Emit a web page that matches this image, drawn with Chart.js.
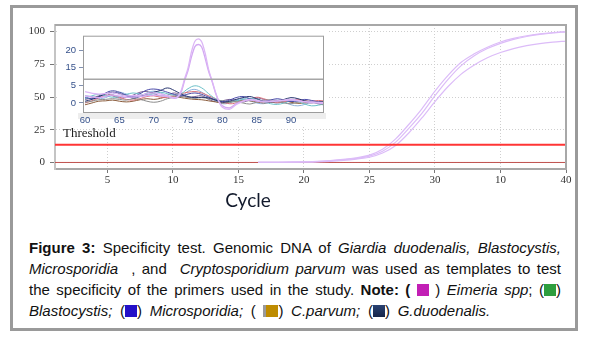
<!DOCTYPE html>
<html><head><meta charset="utf-8">
<script src="https://cdn.jsdelivr.net/npm/chart.js@4/dist/chart.umd.min.js"></script>
<style>
html,body{margin:0;padding:0;background:#fff;}
#wrap{position:relative;width:589px;height:342px;overflow:hidden;background:#fff;}
#frame{position:absolute;left:10px;top:5px;width:562px;height:320px;border:3px solid #9a9a9a;}
#main{position:absolute;left:0;top:0;}
#insetBox{position:absolute;left:57px;top:27px;width:272px;height:99px;background:#fff;}
#inset{position:absolute;left:0;top:0;}
#cycle{position:absolute;left:198px;top:189px;width:100px;text-align:center;font:19px Lato,"Open Sans",sans-serif;line-height:22px;color:#121a2c;}
#caption{position:absolute;left:29px;top:237px;width:532px;font:15px "Liberation Sans",Arial,sans-serif;color:#111;line-height:21px;}
.j2{text-align:justify;text-align-last:justify;}
.last{word-spacing:3.5px;}
.sq{display:inline-block;width:12px;height:12px;vertical-align:-1px;}
</style></head>
<body>
<div id="wrap">
  <div id="frame"></div>
  <canvas id="main" width="589" height="200"></canvas>
  <div id="insetBox"><canvas id="inset" width="272" height="99"></canvas></div>
  <div id="cycle">Cycle</div>
  <div id="caption">
    <div class="j2"><b>Figure 3:</b> Specificity test. Genomic DNA of <i>Giardia duodenalis, Blastocystis,</i></div>
    <div class="j2"><i>Microsporidia</i>&nbsp; , and &nbsp;<i>Cryptosporidium parvum</i> was used as templates to test</div>
    <div class="j2">the specificity of the primers used in the study. <b>Note: (</b> <span class="sq" style="background:#c21fb5"></span> ) <i>Eimeria spp</i>; (<span class="sq" style="background:#2e9e3e"></span>)</div>
    <div class="last"><i>Blastocystis;</i> (<span class="sq" style="background:#2410c8"></span>) <i>Microsporidia;</i> ( <span class="sq" style="background:linear-gradient(90deg,#9a9a9a 0 3px,#bf8c00 3px);width:15px"></span>) <i>C.parvum;</i> (<span class="sq" style="background:linear-gradient(180deg,#2a4272,#16264a)"></span>) <i>G.duodenalis.</i></div>
  </div>
</div>
<script>
// ---------- main amplification plot data ----------
const cycles = [16.5,17,18,19,20,21,22,23,24,25,26,27,28,29,30,31,32,33,34,35,36,37,38,39,40];
const curveA = [0,0.05,0.15,0.3,0.5,0.8,1.4,2.3,3.6,5.6,10,18,29,41,54.5,66.5,76.5,83,88,92,94.8,96.8,98.2,99.2,100];
const curveB = [0,0.04,0.12,0.25,0.4,0.7,1.2,2.0,3.1,4.8,8.6,15.5,26,37.5,51,63.5,74,81.5,87,91,94,96.2,97.8,99,99.8];
const curveC = [0,0.03,0.1,0.2,0.3,0.5,0.9,1.6,2.6,4.0,7.2,13,22.5,34,46.5,58,67.5,74.5,80,84,87,89.2,90.8,91.9,92.7];
const thresholdValue = 13.5;
const baselineValue = 0;
const xRange = [1, 40];
const yRange = [-5, 105];
const xTickValues = [5,10,15,20,25,30,35,40];
const xTickLabels = ['5','10','15','20','25','30','10','40'];
const yTickValues = [0,25,50,75,100];

// ---------- inset melt-curve data ----------
const meltTemps = [60,61,62,63,64,65,66,67,68,69,70,71,72,73,74,75,76,77,78,79,80,81,82,83,84,85,86,87,88,89,90,91,92,93,94,95];
const melt1 = [0.5,1.0,1.8,2.5,3.0,2.6,2.0,1.4,1.8,2.5,3.0,3.5,4.2,3.5,2.5,1.8,1.5,1.6,1.4,0.8,0.2,0.5,1.0,1.5,1.8,1.2,0.5,0.3,0.6,1.0,1.5,1.2,0.6,0.3,0.4,0.2];
const melt2 = [1.5,1.2,1.6,2.8,3.4,3.0,2.2,1.8,2.6,3.6,3.9,3.6,3.0,2.4,2.0,2.5,2.8,2.4,1.6,0.9,0.4,0.8,1.5,1.8,1.2,0.6,0.4,0.8,1.2,0.8,0.4,0.6,1.0,0.7,0.3,0.0];
const melt3 = [0.2,0.5,0.9,1.0,1.2,1.0,0.8,1.2,1.0,0.5,0.2,0.5,1.2,1.6,1.8,1.5,1.3,1.5,1.2,0.8,0.6,0.4,0.3,0.0,-0.3,0.2,0.7,0.9,0.5,0.0,-0.2,0.2,0.5,0.3,-0.2,-0.4];
const melt4 = [1.2,2.0,2.4,2.0,1.6,1.8,2.4,2.8,2.5,2.2,2.6,3.0,2.6,2.2,2.6,4.0,4.8,4.2,2.6,1.2,0.5,0.3,0.6,1.0,1.3,1.0,0.4,-0.2,-0.4,0.0,0.6,0.4,-0.3,-0.8,-0.6,-0.2];
const melt5 = [0.0,0.6,1.4,2.0,2.2,1.6,1.0,0.8,1.2,1.8,2.0,1.6,1.5,2.0,2.6,3.0,3.2,2.8,2.0,1.2,0.4,-0.2,0.0,0.5,1.0,1.6,1.2,0.6,0.2,0.3,0.8,1.0,0.6,0.5,0.7,0.5];
const melt6 = [-0.5,0.0,0.5,0.6,0.8,0.5,0.3,0.5,0.9,1.2,1.0,1.3,1.8,1.9,1.5,1.2,1.0,0.9,0.6,0.3,0.0,0.2,0.5,0.8,0.6,0.3,0.0,0.2,0.4,0.6,0.2,-0.1,0.0,0.2,0.0,-0.2];
const melt7 = [2.0,1.8,1.2,1.5,2.4,3.0,2.5,1.9,2.0,2.8,3.3,2.8,2.0,1.5,1.8,3.3,3.8,3.0,1.8,0.6,-0.2,0.0,0.8,1.2,0.6,0.0,-0.2,0.3,0.8,0.3,-0.5,-0.8,-0.4,0.2,-0.3,-0.6];
const melt8 = [1.0,1.4,2.0,2.6,2.0,1.4,1.6,2.2,3.0,3.2,2.6,2.0,2.2,2.8,2.2,1.6,1.8,2.0,1.0,0.4,0.6,1.0,0.7,0.3,0.8,1.4,1.0,0.4,0.0,0.5,1.0,0.8,0.2,0.0,0.3,0.4];
const peakTemps = [60,62,64,66,68,70,72,73,73.5,74,74.5,75,75.5,76,76.5,77,77.5,78,78.5,79,79.5,80,81,82,84,86,88,90,92,94,95];
const peakA = [3.2,2.5,2.8,2.0,2.2,2.8,2.0,1.5,1.8,3.5,8.5,14.5,19.5,22.5,23.2,22.3,19,13.5,7.5,3,0.3,-1.2,-1.8,-0.5,1.0,0.5,0.6,1.0,0.4,0.2,0.0];
const peakB = [2.0,1.5,2.2,1.6,1.8,2.2,1.8,1.3,1.6,3.0,7.5,13,18,21,21.6,20.8,17.5,12.5,7,2.8,0.5,-0.8,-1.4,-0.2,0.8,0.3,0.5,0.8,0.3,0.0,-0.2];
const insetBreakValue = 8.2;
const insetXRange = [59.7, 94.8];
const insetYRange = [-2.8, 24.1];
const insetXTicks = [60,65,70,75,80,85,90];
const insetYTicks = [0,5,15,20];
// the inset's value axis is not uniform: knots of the axis (value -> fraction of height)
const insetKnotValues = [-2.8, 0, 5, 15, 20, 24.1];
const insetKnotFractions = [0, 0.1296, 0.3610, 0.5950, 0.8138, 1];

function pts(xs, ys){ return xs.map((x,i)=>({x:x, y:ys[i]})); }

class PiecewiseScale extends Chart.LinearScale {
  _frac(v){
    const kv = insetKnotValues, kf = insetKnotFractions;
    let i = 0;
    if (v <= kv[0]) i = 0;
    else if (v >= kv[kv.length-1]) i = kv.length-2;
    else { while (i < kv.length-2 && v > kv[i+1]) i++; }
    return kf[i] + (v - kv[i]) * (kf[i+1]-kf[i]) / (kv[i+1]-kv[i]);
  }
  getPixelForValue(v){ return this.getPixelForDecimal(this._frac(v)); }
  getValueForPixel(p){
    const f = this.getDecimalForPixel(p);
    const kv = insetKnotValues, kf = insetKnotFractions;
    let i = 0;
    while (i < kf.length-2 && f > kf[i+1]) i++;
    return kv[i] + (f - kf[i]) * (kv[i+1]-kv[i]) / (kf[i+1]-kf[i]);
  }
}
PiecewiseScale.id = 'piecewise';
PiecewiseScale.defaults = {};
Chart.register(PiecewiseScale);

const serif = '"Liberation Serif","Times New Roman",serif';

const frameMain = {
  id: 'frameMain',
  afterDraw(chart){
    const {ctx, chartArea:a} = chart;
    ctx.save();
    ctx.strokeStyle = '#a8a8a8';
    ctx.lineWidth = 2;
    ctx.beginPath();
    ctx.moveTo(a.left, a.top); ctx.lineTo(a.right, a.top); ctx.lineTo(a.right, a.bottom);
    ctx.stroke();
    const y = chart.scales.y.getPixelForValue(thresholdValue);
    ctx.fillStyle = '#222';
    ctx.font = '13px ' + serif;
    ctx.textBaseline = 'alphabetic';
    ctx.fillText('Threshold', a.left + 8, y - 8);
    ctx.restore();
  }
};

const lineStyle = {pointRadius:0, fill:false, borderWidth:1};

new Chart(document.getElementById('main'), {
  type: 'line',
  data: {
    datasets: [
      Object.assign({data: pts(xRange, [thresholdValue, thresholdValue]), borderColor:'#ff3535'}, lineStyle, {borderWidth:2}),
      Object.assign({data: pts(cycles, curveA), borderColor:'#dcbcf8', cubicInterpolationMode:'monotone'}, lineStyle, {borderWidth:1.2}),
      Object.assign({data: pts(cycles, curveB), borderColor:'#dcbcf8', cubicInterpolationMode:'monotone'}, lineStyle, {borderWidth:1.2}),
      Object.assign({data: pts(cycles, curveC), borderColor:'#dcbcf8', cubicInterpolationMode:'monotone'}, lineStyle, {borderWidth:1.2}),
      Object.assign({data: pts(xRange, [baselineValue, baselineValue]), borderColor:'#c0504d'}, lineStyle)
    ]
  },
  options: {
    responsive:false, animation:false, events:[],
    layout:{padding:{left:0, top:25, right:23, bottom:0}},
    plugins:{legend:{display:false}, tooltip:{enabled:false}},
    scales:{
      x:{
        type:'linear', min:xRange[0], max:xRange[1],
        afterBuildTicks(s){ s.ticks = xTickValues.map(v=>({value:v})); },
        afterFit(s){ s.height = 31; },
        ticks:{callback:(v)=>xTickLabels[xTickValues.indexOf(v)], font:{family:serif, size:11}, color:'#333', padding:1, maxRotation:0, autoSkip:false},
        grid:{color:'#cfcfcf', lineWidth:1, tickColor:'#777', tickLength:4},
        border:{display:true, color:'#a8a8a8', width:2, dash:[1,2]}
      },
      y:{
        type:'linear', min:yRange[0], max:yRange[1],
        afterBuildTicks(s){ s.ticks = yTickValues.map(v=>({value:v})); },
        afterFit(s){ s.width = 55; },
        ticks:{callback:(v)=>String(v), font:{family:serif, size:11}, color:'#333', padding:5},
        grid:{color:'#cfcfcf', lineWidth:1, tickColor:'#777', tickLength:5},
        border:{display:true, color:'#c4c4c4', width:2, dash:[1,2]}
      }
    }
  },
  plugins:[frameMain]
});

const frameInset = {
  id: 'frameInset',
  beforeDraw(chart){
    const {ctx, chartArea:a} = chart;
    ctx.save();
    ctx.fillStyle = '#ededed';
    ctx.fillRect(a.left - 5, a.bottom, a.right - a.left + 7, 6);
    ctx.restore();
  },
  afterDraw(chart){
    const {ctx, chartArea:a} = chart;
    ctx.save();
    ctx.strokeStyle = '#9c9c9c';
    ctx.lineWidth = 1;
    ctx.strokeRect(a.left + 0.5, a.top + 0.5, a.right - a.left - 1, a.bottom - a.top - 1);
    ctx.restore();
  }
};

const meltColors = ['#26346e','#4a4aa8','#8c8c8c','#6cc0c8','#d86f78','#8a5c3c','#8db2dc','#7a6094'];
const meltData = [melt1, melt2, melt3, melt4, melt5, melt6, melt7, melt8];
const insetSets = [];
insetSets.push(Object.assign({data: pts(insetXRange, [insetBreakValue, insetBreakValue]), borderColor:'#a6a6a6', tension:0}, lineStyle, {borderWidth:1.5}));
insetSets.push(Object.assign({data: pts(peakTemps, peakA), borderColor:'#dcb6f6', cubicInterpolationMode:'monotone'}, lineStyle, {borderWidth:1.3}));
insetSets.push(Object.assign({data: pts(peakTemps, peakB), borderColor:'#d3a8f2', cubicInterpolationMode:'monotone'}, lineStyle, {borderWidth:1.3}));
meltData.forEach((d,i)=>insetSets.push(Object.assign({data: pts(meltTemps, d), borderColor:meltColors[i], tension:0.4}, lineStyle)));

new Chart(document.getElementById('inset'), {
  type:'line',
  data:{datasets: insetSets},
  options:{
    responsive:false, animation:false, events:[],
    layout:{padding:{left:0, top:6.5, right:5, bottom:0}},
    plugins:{legend:{display:false}, tooltip:{enabled:false}},
    scales:{
      x:{
        type:'linear', min:insetXRange[0], max:insetXRange[1],
        afterBuildTicks(s){ s.ticks = insetXTicks.map(v=>({value:v})); },
        afterFit(s){ s.height = 13; },
        ticks:{callback:(v)=>String(v), font:{family:'"Liberation Sans",Arial,sans-serif', size:9.5}, color:'#34508a', padding:2, maxRotation:0, autoSkip:false},
        grid:{display:false, drawTicks:false},
        border:{display:false}
      },
      y:{
        type:'piecewise', min:insetYRange[0], max:insetYRange[1],
        afterBuildTicks(s){ s.ticks = insetYTicks.map(v=>({value:v})); },
        afterFit(s){ s.width = 26; },
        ticks:{callback:(v)=>String(v), font:{family:'"Liberation Sans",Arial,sans-serif', size:9.5}, color:'#34508a', padding:3},
        grid:{drawOnChartArea:false, drawTicks:true, tickLength:4, tickColor:'#8090b0'},
        border:{display:false}
      }
    }
  },
  plugins:[frameInset]
});
</script>
</body></html>
